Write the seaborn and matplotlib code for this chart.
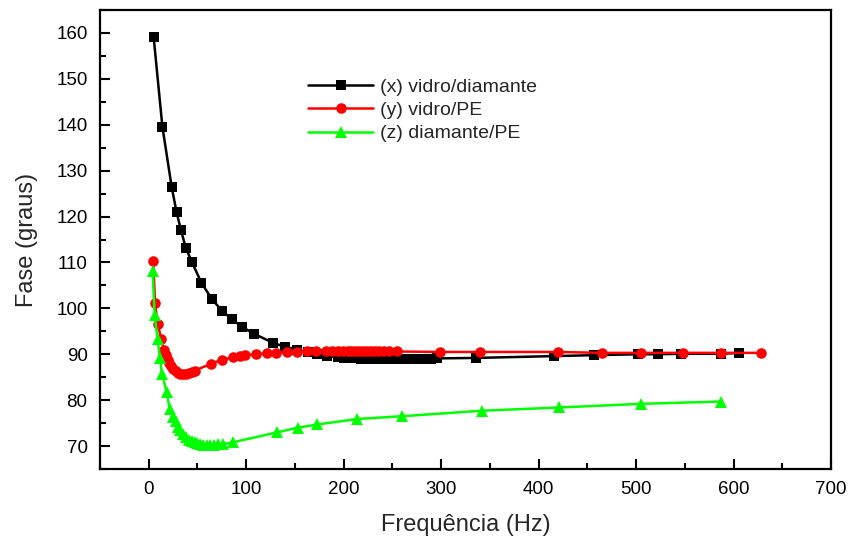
import matplotlib
matplotlib.use("Agg")
import matplotlib.pyplot as plt
import seaborn as sns
from matplotlib.ticker import MultipleLocator

# Phase vs. frequency for the three interface pairs
freq_x = [5, 14, 23.5, 28.5, 33, 38, 44, 54, 64.5, 75, 85.5, 95.5, 107.5, 127.5,
          140, 152, 163, 173, 183, 194, 200, 206, 212, 218, 224, 230, 236, 242,
          248, 254, 260, 266, 272, 278, 284, 290, 296, 336, 416, 457, 502, 523,
          546, 587, 606]
fase_x = [159.2, 139.6, 126.5, 121.0, 117.1, 113.2, 110.2, 105.6, 102.1, 99.5,
          97.6, 96.0, 94.5, 92.5, 91.6, 91.0, 90.4, 90.0, 89.6, 89.3, 89.2, 89.1,
          89.1, 89.0, 89.0, 88.9, 88.9, 88.9, 88.9, 88.9, 88.9, 88.9, 89.0, 89.0,
          89.0, 89.0, 89.1, 89.2, 89.6, 89.8, 90.0, 90.0, 90.1, 90.1, 90.3]

freq_y = [4.5, 6.5, 9, 13, 15.5, 17.5, 19.5, 21, 22.5, 25, 27.5, 30, 32.5, 35,
          38, 41, 44, 47, 63.5, 75, 86, 94, 98.5, 110, 121, 131, 142, 152, 162,
          172, 182, 188, 194, 199, 204, 208, 212, 216, 220, 224, 228, 232, 236,
          241, 247, 255, 299, 340, 420, 465, 505, 548, 587, 628]
fase_y = [110.4, 101.2, 96.6, 93.4, 91.0, 89.8, 88.8, 88.0, 87.4, 86.8, 86.3,
          86.0, 85.8, 85.7, 85.8, 85.9, 86.1, 86.4, 87.9, 88.8, 89.3, 89.6, 89.8,
          90.0, 90.2, 90.3, 90.4, 90.5, 90.6, 90.6, 90.7, 90.7, 90.7, 90.7, 90.7,
          90.7, 90.7, 90.7, 90.7, 90.7, 90.7, 90.7, 90.7, 90.6, 90.6, 90.6, 90.5,
          90.5, 90.5, 90.3, 90.3, 90.3, 90.3, 90.3]

freq_z = [4, 6, 9, 11.5, 13.5, 18.5, 21.5, 25, 27.5, 30, 32, 35, 38, 41, 44, 47,
          50, 53, 56, 60, 63, 67, 71, 76, 86, 132, 153, 173, 214, 260, 342, 421,
          505, 587]
fase_z = [108.2, 98.6, 93.4, 89.2, 85.8, 81.7, 78.1, 76.3, 75.5, 74.2, 73.5,
          72.6, 71.9, 71.3, 71.0, 70.8, 70.6, 70.4, 70.3, 70.2, 70.2, 70.3, 70.4,
          70.4, 70.8, 73.0, 74.0, 74.7, 75.9, 76.5, 77.7, 78.4, 79.2, 79.7]

labels = ["(x) vidro/diamante", "(y) vidro/PE", "(z) diamante/PE"]
x_ticks = [0, 100, 200, 300, 400, 500, 600, 700]
y_ticks = [70, 80, 90, 100, 110, 120, 130, 140, 150, 160]

sns.set_style("ticks")
plt.rcParams["font.family"] = ["Liberation Sans", "DejaVu Sans"]
plt.rcParams["axes.linewidth"] = 1.6

fig = plt.figure(figsize=(8.5, 5.36), dpi=100)
ax = fig.add_axes([100 / 850, 1 - 469 / 536, 731 / 850, 459 / 536])

styles = [
    (freq_x, fase_x, "#000000", "s", 6.8),
    (freq_y, fase_y, "#ff0000", "o", 7.6),
    (freq_z, fase_z, "#00ff00", "^", 8.2),
]
for (f, p, color, marker, ms), lab in zip(styles, labels):
    sns.lineplot(x=f, y=p, ax=ax, color=color, marker=marker, markersize=ms,
                 markeredgecolor=color, markeredgewidth=0, linewidth=1.8,
                 estimator=None, sort=False, label=lab)

ax.set_xlim(-50, 700)
ax.set_ylim(65, 165)
ax.set_xticks(x_ticks)
ax.set_yticks(y_ticks)
ax.xaxis.set_minor_locator(MultipleLocator(50))
ax.yaxis.set_minor_locator(MultipleLocator(5))
ax.tick_params(which="both", direction="in", top=False, right=False,
               width=1.5, colors="black")
ax.tick_params(which="major", length=7, labelsize=13.5, pad=9)
ax.tick_params(which="minor", length=4)
for s in ax.spines.values():
    s.set_color("black")
    s.set_linewidth(1.6)

ax.set_xlabel("Frequência (Hz)", fontsize=17, labelpad=11)
ax.set_ylabel("Fase (graus)", fontsize=17, labelpad=13)

ax.legend(loc="upper left", bbox_to_anchor=(0.2845, 0.852), frameon=False,
          fontsize=14, handlelength=3.35, handletextpad=0.38, labelspacing=0.3,
          borderpad=0, borderaxespad=0)

fig.savefig("out.png", dpi=100)
